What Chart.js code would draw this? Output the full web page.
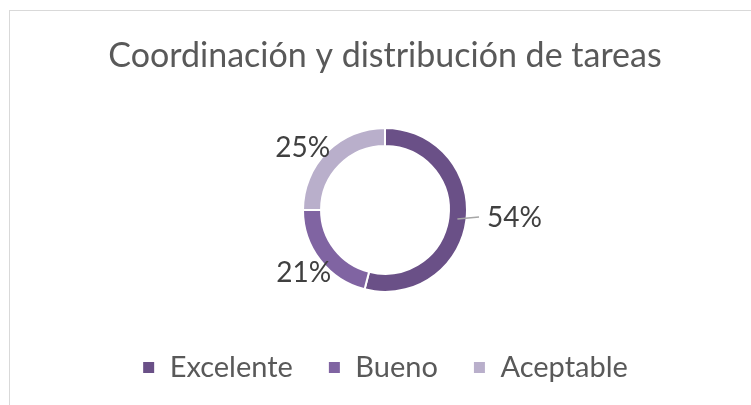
<!DOCTYPE html>
<html>
<head>
<meta charset="utf-8">
<script src="https://cdn.jsdelivr.net/npm/chart.js@4"></script>
<style>
  html, body { margin: 0; padding: 0; background: #fff; overflow: hidden; }
  #frame {
    position: absolute; left: 9px; top: 10px;
    width: 750px; height: 400px;
    border: 1px solid #d9d9d9; box-sizing: border-box;
  }
  #wrap { position: absolute; left: 0; top: 0; width: 750px; height: 395px; }
</style>
</head>
<body>
<div id="frame"><div id="wrap"><canvas id="donutChart"></canvas></div></div>
<script>
// datos
const categories = ['Excelente', 'Bueno', 'Aceptable'];
const values = [54, 21, 25];
const colors = ['#6a5087', '#8064a2', '#b9afcb'];
const chartTitle = 'Coordinación y distribución de tareas';

const FONT = 'Lato, "Open Sans", sans-serif';

// etiquetas de porcentaje fuera del anillo
const pctLabels = {
    id: 'pctLabels',
    afterDatasetsDraw(chart, args, opts) {
        const ctx = chart.ctx;
        const meta = chart.getDatasetMeta(0);
        const total = values.reduce((a, b) => a + b, 0);
        ctx.save();
        ctx.font = opts.size + 'px ' + FONT;
        ctx.fillStyle = '#404040';
        ctx.textBaseline = 'middle';
        meta.data.forEach((arc, i) => {
            const p = arc.getProps(['x', 'y', 'startAngle', 'endAngle', 'innerRadius', 'outerRadius'], true);
            const mid = (p.startAngle + p.endAngle) / 2 + (opts.shift[i] || 0) * Math.PI / 180;
            const txt = Math.round(values[i] / total * 100) + '%';
            if (opts.leader[i]) {
                // línea guía desde el centro del anillo
                const rm = (p.innerRadius + p.outerRadius) / 2;
                const sx = p.x + Math.cos(mid) * rm;
                const sy = p.y + Math.sin(mid) * rm;
                const ex = p.x + p.outerRadius + 12;
                const ey = sy - 2;
                ctx.strokeStyle = '#a6a6a6';
                ctx.lineWidth = 1.5;
                ctx.beginPath();
                ctx.moveTo(sx, sy);
                ctx.lineTo(ex, ey);
                ctx.stroke();
                ctx.textAlign = 'left';
                ctx.fillText(txt, ex + 8, ey + 1);
            } else {
                const r = p.outerRadius + opts.offset;
                ctx.textAlign = 'center';
                ctx.fillText(txt, p.x + Math.cos(mid) * r, p.y + Math.sin(mid) * r);
            }
        });
        ctx.restore();
    }
};

new Chart(document.getElementById('donutChart'), {
    type: 'doughnut',
    data: {
        labels: categories,
        datasets: [{
            data: values,
            backgroundColor: colors,
            borderColor: '#ffffff',
            borderWidth: 2,
            hoverOffset: 0
        }]
    },
    plugins: [pctLabels],
    options: {
        responsive: true,
        maintainAspectRatio: false,
        animation: false,
        radius: 82,
        cutout: '78%',
        layout: { padding: { bottom: 14 } },
        plugins: {
            title: {
                display: true,
                text: chartTitle,
                color: '#595959',
                font: { family: FONT, size: 34, weight: 'normal' },
                padding: { top: 25, bottom: 25 }
            },
            legend: {
                position: 'bottom',
                labels: {
                    color: '#595959',
                    font: { family: FONT, size: 29 },
                    boxWidth: 13,
                    boxHeight: 13,
                    padding: 35
                }
            },
            tooltip: { enabled: false },
            pctLabels: { size: 28, offset: 21, shift: [0, 0, -8], leader: [true, false, false] }
        }
    }
});
</script>
</body>
</html>
